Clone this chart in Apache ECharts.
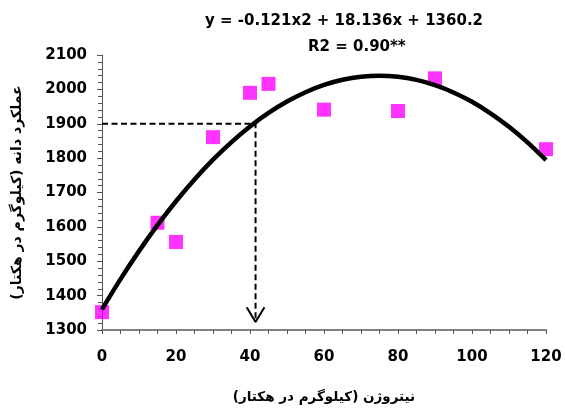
<!DOCTYPE html>
<html><head><meta charset="utf-8">
<script src="https://cdn.jsdelivr.net/npm/echarts@6/dist/echarts.min.js"></script>
<style>html,body{margin:0;padding:0;background:#fff}#c{width:565px;height:409px}</style>
</head><body><div id="c"></div>
<script>
// Observed data (nitrogen rate vs grain yield)
const nitrogen = [0, 15, 20, 30, 40, 45, 60, 80, 90, 120];
const grainYield = [1352, 1612, 1556, 1861, 1990, 2016, 1941, 1937, 2032, 1826];
// Trendline values read from the stated equation y = -0.121x2 + 18.136x + 1360.2
const trendX = [0, 5, 10, 15, 20, 25, 30, 35, 40, 45, 50, 55, 60, 65, 70, 75, 80, 85, 90, 95, 100, 105, 110, 115, 120];
const trendY = [1360.2, 1447.9, 1529.5, 1605.0, 1674.5, 1738.0, 1795.4, 1846.7, 1892.0, 1931.3, 1964.5, 1991.7,
                2012.8, 2027.8, 2036.8, 2039.8, 2036.7, 2027.5, 2012.3, 1991.1, 1963.8, 1930.5, 1891.1, 1845.6, 1794.1];
// Guide (dashed) line and arrow head
const guideX = [0, 41.5, 41.5];
const guideY = [1900, 1900, 1323];
const arrowX = [39.1, 41.5, 43.9];
const arrowY = [1366, 1323, 1366];
// Texts
const equationText = 'y = -0.121x2 + 18.136x + 1360.2';
const r2Text = 'R2 = 0.90**';
const xName = 'نیتروژن (کیلوگرم در هکتار)';
const yName = 'عملکرد دانه (کیلوگرم در هکتار)';

const zip = (a, b) => a.map((v, i) => [v, b[i]]);
const FONT = 'DejaVu Sans';

const chart = echarts.init(document.getElementById('c'));
chart.setOption({
  animation: false,
  backgroundColor: '#fff',
  title: [
    { text: equationText, left: 200, top: 9, textStyle: { fontFamily: FONT, fontWeight: 'bold', fontSize: 15, color: '#000' } },
    { text: r2Text, left: 303, top: 35, textStyle: { fontFamily: FONT, fontWeight: 'bold', fontSize: 15, color: '#000' } }
  ],
  grid: { left: 102, right: 19, top: 55, bottom: 79, containLabel: false },
  xAxis: {
    type: 'value', min: 0, max: 120, interval: 5,
    name: xName, nameLocation: 'middle', nameGap: 60,
    nameTextStyle: { fontFamily: FONT, fontWeight: 'bold', fontSize: 13.5, color: '#000' },
    axisLine: { show: true, onZero: false, lineStyle: { color: '#808080', width: 2 } },
    axisTick: { show: true, length: 4, lineStyle: { color: '#555', width: 1 } },
    axisLabel: { margin: 20, fontFamily: FONT, fontWeight: 'bold', fontSize: 15, color: '#000',
      formatter: v => (v % 20 === 0 ? String(v) : '') },
    splitLine: { show: false }
  },
  yAxis: {
    type: 'value', min: 1300, max: 2100, interval: 100,
    name: yName, nameLocation: 'middle', nameGap: 78, nameRotate: 90,
    nameTextStyle: { fontFamily: FONT, fontWeight: 'bold', fontSize: 14, color: '#000' },
    axisLine: { show: true, onZero: false, lineStyle: { color: '#555', width: 1 } },
    axisTick: { show: true, length: 5, lineStyle: { color: '#555', width: 1 } },
    minorTick: { show: true, splitNumber: 5, length: 4, lineStyle: { color: '#555', width: 1 } },
    axisLabel: { margin: 15, fontFamily: FONT, fontWeight: 'bold', fontSize: 15, color: '#000',
      formatter: v => String(v) },
    splitLine: { show: false }, minorSplitLine: { show: false }
  },
  series: [
    { type: 'scatter', data: zip(nitrogen, grainYield), symbol: 'rect', symbolSize: 14,
      itemStyle: { color: '#FF00FF' }, z: 2 },
    { type: 'line', data: zip(trendX, trendY), smooth: 0.3, symbol: 'none',
      lineStyle: { color: '#000', width: 4.5, cap: 'butt' }, z: 4 },
    { type: 'line', data: zip(guideX, guideY), symbol: 'none',
      lineStyle: { color: '#000', width: 2, type: [6, 3.5] }, z: 3 },
    { type: 'line', data: zip(arrowX, arrowY), symbol: 'none',
      lineStyle: { color: '#000', width: 2 }, z: 3 }
  ]
});
</script></body></html>
